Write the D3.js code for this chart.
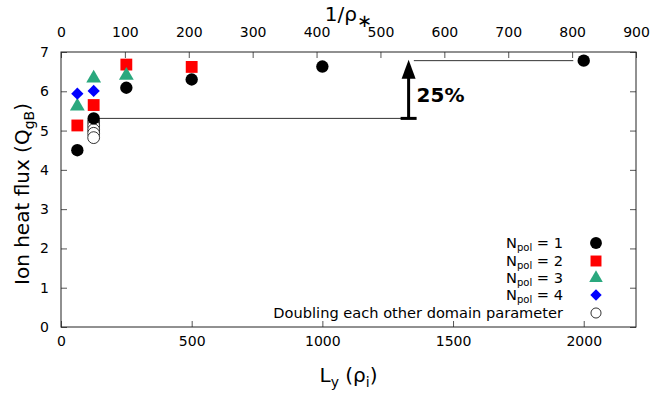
<!DOCTYPE html>
<html>
<head>
<meta charset="utf-8">
<script src="https://cdn.jsdelivr.net/npm/d3@7"></script>
<style>
  body { margin: 0; background: #fff; }
  text { font-family: "DejaVu Sans", sans-serif; fill: #000; }
</style>
</head>
<body>
<div id="chart"></div>
<script>
// Ly values (rho_i) and ion heat flux (Q_gB) for each poloidal count
var lyN1 = [62.5, 125, 250, 500, 1000, 2000];
var qN1 = [4.50, 5.31, 6.09, 6.30, 6.63, 6.78];
var lyN2 = [62.5, 125, 250, 500];
var qN2 = [5.13, 5.65, 6.68, 6.62];
var lyN3 = [62.5, 125, 250];
var qN3 = [5.62, 6.33, 6.40];
var lyN4 = [62.5, 125];
var qN4 = [5.94, 6.01];
var lyDbl = [125, 125, 125, 125, 125];
var qDbl = [5.22, 5.12, 5.02, 4.93, 4.82];

var xTicks = [0, 500, 1000, 1500, 2000];
var x2Ticks = [0, 100, 200, 300, 400, 500, 600, 700, 800, 900];
var yTicks = [0, 1, 2, 3, 4, 5, 6, 7];

var legendLabels = ["1", "2", "3", "4"];

// 25% annotation (data coords)
var arrowLy = 1330;
var lowLine = [140, 1305];
var highLine = [1350, 1960];
var lowQ = 5.31;
var highQ = 6.78;

function init() {
    var w = 664, h = 399;
    var left = 61, right = 636, top = 52, bottom = 327;

    var svg = d3.select("#chart").append("svg")
        .attr("width", w).attr("height", h);

    var x = d3.scaleLinear().domain([0, 2200]).range([left, right]);
    var x2 = d3.scaleLinear().domain([0, 900]).range([left, right]);
    var y = d3.scaleLinear().domain([0, 7]).range([bottom, top]);
    var fmt = d3.format("d");

    function styleAxis(g) {
        g.select(".domain").remove();
        g.selectAll("line").attr("stroke", "#555");
        g.selectAll("text").attr("font-size", 14)
            .attr("font-family", "DejaVu Sans, sans-serif").attr("fill", "#000");
    }

    svg.append("g").attr("transform", "translate(0," + bottom + ")")
        .call(d3.axisBottom(x).tickValues(xTicks).tickFormat(fmt).tickSize(-6).tickPadding(9))
        .call(styleAxis);
    svg.append("g").attr("transform", "translate(0," + top + ")")
        .call(d3.axisTop(x2).tickValues(x2Ticks).tickFormat(fmt).tickSize(-6).tickPadding(15))
        .call(styleAxis);
    svg.append("g").attr("transform", "translate(" + left + ",0)")
        .call(d3.axisLeft(y).tickValues(yTicks).tickFormat(fmt).tickSize(-6).tickPadding(12))
        .call(styleAxis);
    svg.append("g").attr("transform", "translate(" + right + ",0)")
        .call(d3.axisRight(y).tickValues(yTicks).tickSize(-6).tickFormat(""))
        .call(styleAxis);

    svg.append("rect")
        .attr("x", left).attr("y", top)
        .attr("width", right - left).attr("height", bottom - top)
        .attr("fill", "none").attr("stroke", "#222").attr("stroke-width", 1);

    // titles
    var yt = svg.append("text")
        .attr("transform", "translate(29,194) rotate(-90)")
        .attr("text-anchor", "middle").attr("font-size", 20);
    yt.append("tspan").text("Ion heat flux  (Q");
    yt.append("tspan").attr("font-size", 14).attr("dy", 5).text("gB");
    yt.append("tspan").attr("dy", -5).text(")");

    var xt = svg.append("text")
        .attr("x", (left + right) / 2).attr("y", 382)
        .attr("text-anchor", "middle").attr("font-size", 20);
    xt.append("tspan").text("L");
    xt.append("tspan").attr("font-size", 14).attr("dy", 5).text("y");
    xt.append("tspan").attr("dy", -5).text(" (ρ");
    xt.append("tspan").attr("font-size", 14).attr("dy", 5).text("i");
    xt.append("tspan").attr("dy", -5).text(")");

    var x2t = svg.append("text")
        .attr("x", (left + right) / 2).attr("y", 21)
        .attr("text-anchor", "middle").attr("font-size", 20);
    x2t.append("tspan").text("1/ρ");
    x2t.append("tspan").attr("font-size", 18).attr("dy", 6).text("∗");

    // annotation lines and arrow
    svg.append("line")
        .attr("x1", x(lowLine[0])).attr("x2", x(lowLine[1]))
        .attr("y1", y(lowQ)).attr("y2", y(lowQ))
        .attr("stroke", "#333").attr("stroke-width", 1);
    svg.append("line")
        .attr("x1", x(highLine[0])).attr("x2", x(highLine[1]))
        .attr("y1", y(highQ)).attr("y2", y(highQ))
        .attr("stroke", "#333").attr("stroke-width", 1);

    var ax = x(arrowLy);
    svg.append("line")
        .attr("x1", ax).attr("x2", ax)
        .attr("y1", y(lowQ)).attr("y2", y(highQ) + 14)
        .attr("stroke", "#000").attr("stroke-width", 3);
    svg.append("line")
        .attr("x1", ax - 8).attr("x2", ax + 8)
        .attr("y1", y(lowQ)).attr("y2", y(lowQ))
        .attr("stroke", "#000").attr("stroke-width", 3);
    svg.append("path")
        .attr("d", "M" + ax + "," + (y(highQ) - 1) + " L" + (ax - 7) + "," + (y(highQ) + 18) +
            " L" + (ax + 7) + "," + (y(highQ) + 18) + " Z")
        .attr("fill", "#000");
    svg.append("text")
        .attr("x", ax + 8).attr("y", y(lowQ) - 16)
        .attr("font-family", "Liberation Sans, Arial, sans-serif")
        .attr("font-weight", "bold").attr("font-size", 20)
        .text("25%");

    // symbols
    var sym = {
        circle: d3.symbol().type(d3.symbolCircle).size(120),
        square: d3.symbol().type(d3.symbolSquare).size(140),
        triangle: d3.symbol().type(d3.symbolTriangle).size(95),
        diamond: d3.symbol().type(d3.symbolSquare).size(75),
        open: d3.symbol().type(d3.symbolCircle).size(110)
    };

    var series = [
        { ly: lyDbl, q: qDbl, s: sym.open, fill: "#fff", stroke: "#000", rot: 0 },
        { ly: lyN1, q: qN1, s: sym.circle, fill: "#000", stroke: "none", rot: 0 },
        { ly: lyN2, q: qN2, s: sym.square, fill: "#ff0000", stroke: "none", rot: 0 },
        { ly: lyN3, q: qN3, s: sym.triangle, fill: "#2aa87e", stroke: "none", rot: 0 },
        { ly: lyN4, q: qN4, s: sym.diamond, fill: "#0000ff", stroke: "none", rot: 45 }
    ];

    series.forEach(function (d) {
        svg.append("g").selectAll("path")
            .data(d.ly.map(function (v, i) { return [v, d.q[i]]; }))
            .enter()
            .append("path")
            .attr("d", d.s)
            .attr("transform", function (p) {
                return "translate(" + x(p[0]) + "," + y(p[1]) + ") rotate(" + d.rot + ")";
            })
            .attr("fill", d.fill)
            .attr("stroke", d.stroke)
            .attr("stroke-width", 0.8);
    });

    // legend
    var legSym = [
        { s: d3.symbol().type(d3.symbolCircle).size(110), fill: "#000", stroke: "none", rot: 0 },
        { s: d3.symbol().type(d3.symbolSquare).size(120), fill: "#ff0000", stroke: "none", rot: 0 },
        { s: d3.symbol().type(d3.symbolTriangle).size(80), fill: "#2aa87e", stroke: "none", rot: 0 },
        { s: d3.symbol().type(d3.symbolSquare).size(65), fill: "#0000ff", stroke: "none", rot: 45 },
        { s: d3.symbol().type(d3.symbolCircle).size(80), fill: "#fff", stroke: "#000", rot: 0 }
    ];
    var legY = [243, 261, 278, 295, 313];
    legSym.forEach(function (d, i) {
        var t = svg.append("text")
            .attr("x", 563).attr("y", legY[i] + 5)
            .attr("text-anchor", "end").attr("font-size", 14.6);
        if (i < 4) {
            t.append("tspan").text("N");
            t.append("tspan").attr("font-size", 10).attr("dy", 3).text("pol");
            t.append("tspan").attr("dy", -3).text(" = " + legendLabels[i]);
        } else {
            t.text("Doubling each other domain parameter");
        }
        svg.append("path")
            .attr("d", d.s)
            .attr("transform", "translate(596," + legY[i] + ") rotate(" + d.rot + ")")
            .attr("fill", d.fill).attr("stroke", d.stroke).attr("stroke-width", 0.8);
    });
}

window.onload = init;
</script>
</body>
</html>
